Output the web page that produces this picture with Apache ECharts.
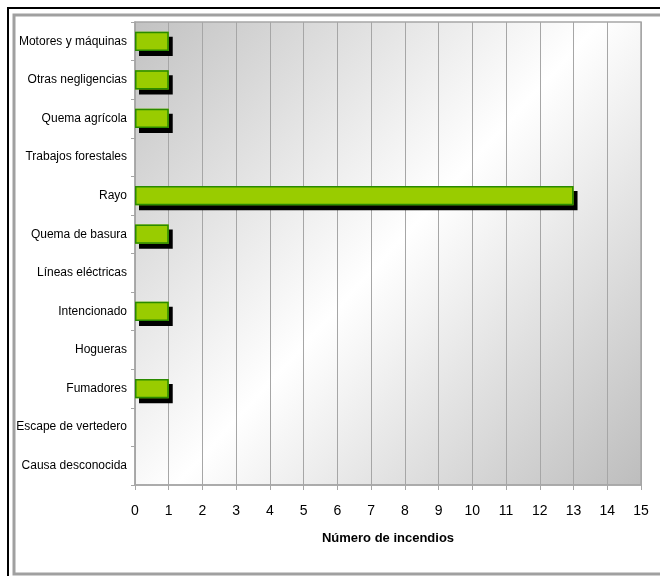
<!DOCTYPE html>
<html>
<head>
<meta charset="utf-8">
<script src="https://cdn.jsdelivr.net/npm/echarts@6/dist/echarts.min.js"></script>
<style>
  html, body { margin: 0; padding: 0; background: #fff; }
  #chart { width: 660px; height: 576px; }
</style>
</head>
<body>
<div id="chart"></div>
<script>
  // causas, de arriba a abajo
  const causes = [
    'Motores y máquinas',
    'Otras negligencias',
    'Quema agrícola',
    'Trabajos forestales',
    'Rayo',
    'Quema de basura',
    'Líneas eléctricas',
    'Intencionado',
    'Hogueras',
    'Fumadores',
    'Escape de vertedero',
    'Causa desconocida'
  ];
  const fires = [1, 1, 1, 0, 13, 1, 0, 1, 0, 1, 0, 0];
  const xMin = 0;
  const xMax = 15;

  const gridGray = '#a6a6a6';
  const font = '"Liberation Sans", Arial, sans-serif';

  // empty cells draw nothing (no stray shadow line)
  const barData = fires.map(v => (v === 0 ? '-' : v));

  const chart = echarts.init(document.getElementById('chart'));

  chart.setOption({
    animation: false,
    backgroundColor: '#fff',
    graphic: [
      {
        type: 'rect',
        z: -10,
        shape: { x: 8, y: 8, width: 700, height: 700 },
        style: { fill: '#fff', stroke: '#000', lineWidth: 2 }
      },
      {
        type: 'rect',
        z: -9,
        shape: { x: 14, y: 15, width: 700, height: 559 },
        style: { fill: '#fff', stroke: '#a0a0a0', lineWidth: 3 }
      }
    ],
    grid: {
      left: 135,
      right: 19,
      top: 22,
      bottom: 91,
      outerBoundsMode: 'none',
      containLabel: false,
      show: true,
      borderColor: gridGray,
      borderWidth: 1.5,
      backgroundColor: new echarts.graphic.LinearGradient(0, 0, 1, 1, [
        { offset: 0, color: '#c2c2c2' },
        { offset: 0.5, color: '#ffffff' },
        { offset: 1, color: '#bdbdbd' }
      ])
    },
    xAxis: {
      type: 'value',
      min: xMin,
      max: xMax,
      interval: 1,
      name: 'Número de incendios',
      nameLocation: 'middle',
      nameGap: 47,
      nameTextStyle: {
        fontFamily: font,
        fontSize: 13,
        fontWeight: 'bold',
        color: '#000'
      },
      axisLine: { show: true, lineStyle: { color: gridGray, width: 1.5 } },
      axisTick: { show: true, length: 5, lineStyle: { color: gridGray } },
      axisLabel: {
        margin: 19,
        fontFamily: font,
        fontSize: 14,
        color: '#000'
      },
      splitLine: { show: true, lineStyle: { color: gridGray, width: 1 } }
    },
    yAxis: {
      type: 'category',
      inverse: true,
      data: causes,
      axisLine: { show: true, lineStyle: { color: gridGray, width: 1.5 } },
      axisTick: { show: true, length: 4, lineStyle: { color: gridGray } },
      axisLabel: {
        margin: 8,
        fontFamily: font,
        fontSize: 12,
        color: '#000'
      },
      splitLine: { show: false }
    },
    series: [
      {
        // filled bar with its hard black drop shadow
        type: 'bar',
        data: barData,
        barWidth: '50%',
        itemStyle: {
          color: '#99cc00',
          shadowColor: '#000',
          shadowBlur: 0,
          shadowOffsetX: 4,
          shadowOffsetY: 5
        }
      },
      {
        // green outline drawn on top, no shadow
        type: 'bar',
        data: barData,
        barWidth: '50%',
        barGap: '-100%',
        silent: true,
        itemStyle: {
          color: 'rgba(0,0,0,0)',
          borderColor: '#2a8a00',
          borderWidth: 1.5
        }
      }
    ]
  });
</script>
</body>
</html>
